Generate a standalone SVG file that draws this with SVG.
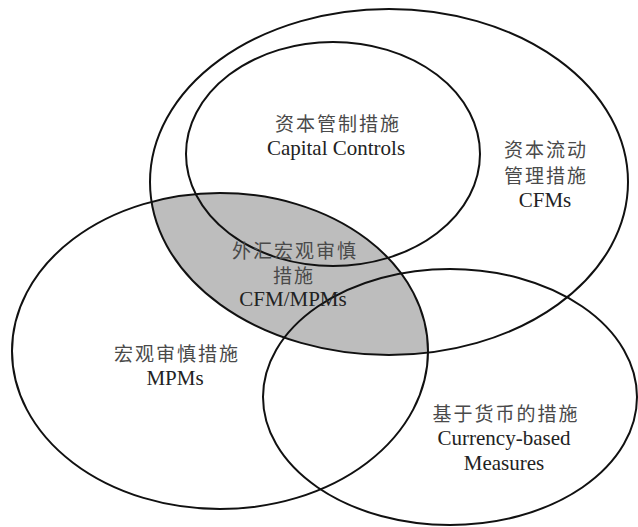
<svg xmlns="http://www.w3.org/2000/svg" width="638" height="527" viewBox="0 0 638 527">
  <style>
    .ring { fill: none; stroke: #111; stroke-width: 2; }
    .zh { font-family: "Noto Sans CJK SC", sans-serif; font-size: 19px; fill: #4a4a4a; text-anchor: middle; letter-spacing: 2px; }
    .en { font-family: "Liberation Serif", "Times New Roman", serif; font-size: 21px; fill: #222; text-anchor: middle; }
  </style>
  <defs>
    <clipPath id="cfmClip">
      <ellipse cx="389" cy="182" rx="239" ry="173"/>
    </clipPath>
  </defs>
  <rect width="638" height="527" fill="#fff"/>
  <g id="overlap-fill">
    <ellipse cx="220" cy="351" rx="208" ry="158" fill="#bdbdbd" clip-path="url(#cfmClip)"/>
  </g>
  <g id="cfms">
    <ellipse class="ring" cx="389" cy="182" rx="239" ry="173"/>
    <text class="zh" x="546" y="157">资本流动</text>
    <text class="zh" x="546" y="183">管理措施</text>
    <text class="en" x="545" y="207">CFMs</text>
  </g>
  <g id="capital-controls">
    <ellipse class="ring" cx="333" cy="154" rx="147" ry="112"/>
    <text class="zh" x="338" y="131">资本管制措施</text>
    <text class="en" x="336" y="155">Capital Controls</text>
  </g>
  <g id="mpms">
    <ellipse class="ring" cx="220" cy="351" rx="208" ry="158"/>
    <text class="zh" x="177" y="361">宏观审慎措施</text>
    <text class="en" x="175" y="385">MPMs</text>
  </g>
  <g id="currency-based">
    <ellipse class="ring" cx="450" cy="397" rx="187" ry="128"/>
    <text class="zh" x="506" y="421">基于货币的措施</text>
    <text class="en" x="504" y="445">Currency-based</text>
    <text class="en" x="504" y="470">Measures</text>
  </g>
  <g id="cfm-mpms">
    <text class="zh" x="295" y="258">外汇宏观审慎</text>
    <text class="zh" x="294" y="283">措施</text>
    <text class="en" x="293" y="306">CFM/MPMs</text>
  </g>
</svg>
